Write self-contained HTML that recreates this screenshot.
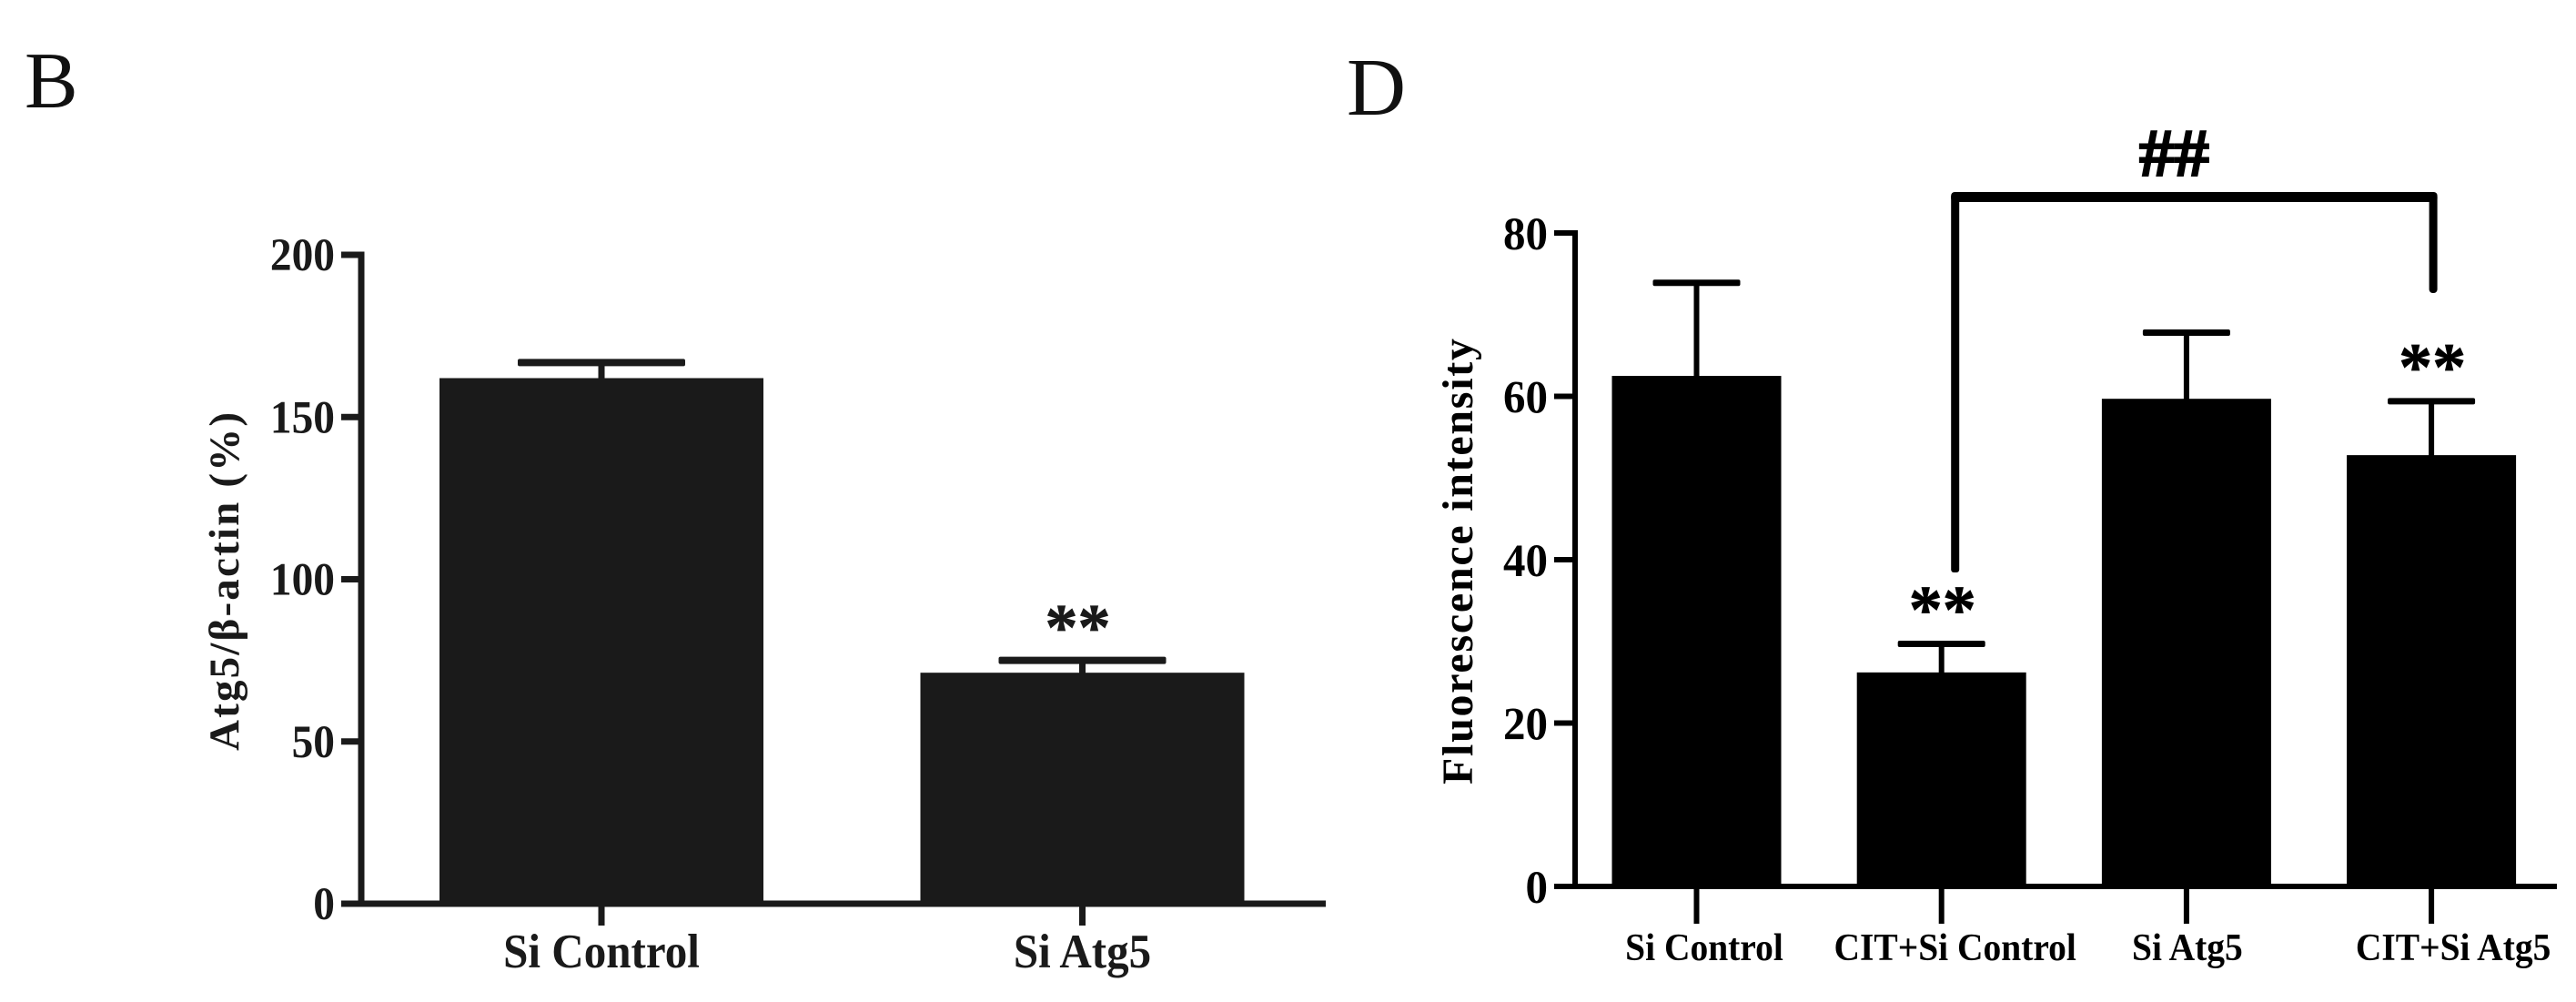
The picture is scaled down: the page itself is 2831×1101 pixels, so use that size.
<!DOCTYPE html>
<html lang="en">
<head>
<meta charset="utf-8">
<title>Atg5 and fluorescence bar charts</title>
<style>
html,body{margin:0;padding:0;background:#fff;}
svg{display:block;}
text{font-family:"Liberation Serif",serif;}
</style>
</head>
<body>
<svg id="figure" xmlns="http://www.w3.org/2000/svg" width="2831" height="1101" viewBox="0 0 2831 1101">
  <rect x="0" y="0" width="2831" height="1101" fill="#fff"/>
  <text x="27" y="118" font-size="88" fill="#111">B</text>
  <text x="1480" y="126" font-size="90" fill="#111">D</text>
  <g id="chartB"></g>
  <g id="chartD"></g>
</svg>
<script>
// Panel B data
const bCategories = ['Si Control', 'Si Atg5'];
const bMeans = [162, 71.2];
const bErrorTops = [166.8, 75];
const bTicks = [0, 50, 100, 150, 200];
const bStarred = ['Si Atg5'];

// Panel D data
const dCategories = ['Si Control', 'CIT+Si Control', 'Si Atg5', 'CIT+Si Atg5'];
const dMeans = [62.5, 26.2, 59.7, 52.8];
const dErrorTops = [73.9, 29.7, 67.8, 59.4];
const dTicks = [0, 20, 40, 60, 80];
const dStarred = ['CIT+Si Control', 'CIT+Si Atg5'];
const dBracketFrom = 'CIT+Si Control';
const dBracketTo = 'CIT+Si Atg5';

const NS = 'http://www.w3.org/2000/svg';

function mk(parent, tag, attrs, txt) {
  const el = document.createElementNS(NS, tag);
  for (const k in attrs) el.setAttribute(k, attrs[k]);
  if (txt !== undefined) el.textContent = txt;
  parent.appendChild(el);
  return el;
}

function drawChart(root, cfg, categories, means, tops, ticks, starred) {
  const y = v => cfg.y0 - (v - cfg.vMin) * (cfg.y0 - cfg.yTop) / (cfg.vMax - cfg.vMin);
  const x = i => cfg.x0 + i * cfg.step;
  const c = cfg.color;

  categories.forEach((cat, i) => {
    const stem = mk(root, 'rect', {x: x(i) - cfg.stemW / 2, y: y(tops[i]), width: cfg.stemW, height: y(means[i]) - y(tops[i]) + 2, fill: c});
    
    

    const cap = mk(root, 'rect', {x: x(i) - cfg.capW / 2, y: y(tops[i]) - cfg.capH / 2, width: cfg.capW, height: cfg.capH, rx: 2, fill: c});
    
    

    const bar = mk(root, 'rect', {x: x(i) - cfg.barW / 2, y: y(means[i]), width: cfg.barW, height: cfg.y0 - y(means[i]), fill: c});
    
    

    const tick = mk(root, 'rect', {x: x(i) - cfg.lineW / 2, y: cfg.y0, width: cfg.lineW, height: cfg.xTickEnd - cfg.y0, fill: c});
    
    

    const lab = mk(root, 'text', {x: x(i) + cfg.labelNudge[i], y: cfg.xLabelY, 'font-size': cfg.xFont, 'font-weight': 'bold', 'text-anchor': 'middle', fill: c}, cat);
    
    
    lab.setAttribute('textLength', (lab.getComputedTextLength() * cfg.xCondense).toFixed(1));
    lab.setAttribute('lengthAdjust', 'spacingAndGlyphs');

    if (starred.includes(cat)) {
      const star = mk(root, 'text', {x: x(i) + cfg.starNudge, y: y(tops[i]) - cfg.starGap, 'font-size': cfg.starFont, 'font-weight': 'bold', 'text-anchor': 'middle', fill: c, stroke: c, 'stroke-width': 0.8}, '**');
      
      
    }
  });

  const yAxis = mk(root, 'rect', {x: cfg.axisX - cfg.lineW / 2, y: cfg.yTop - cfg.lineW / 2, width: cfg.lineW, height: cfg.y0 - cfg.yTop + cfg.lineW, fill: c});
  
  

  const xAxis = mk(root, 'rect', {x: cfg.tickLeft, y: cfg.y0 - cfg.lineW / 2, width: cfg.axisEnd - cfg.tickLeft, height: cfg.lineW, fill: c});
  
  

  ticks.forEach(t => {
    const tk = mk(root, 'rect', {x: cfg.tickLeft, y: y(t) - cfg.lineW / 2, width: cfg.axisX - cfg.tickLeft, height: cfg.lineW, fill: c});
    
    

    const str = String(t);
    const lab = mk(root, 'text', {x: cfg.yLabelRight, y: y(t) + cfg.yLabelDrop, 'font-size': cfg.yFont, 'font-weight': 'bold', 'text-anchor': 'end', fill: c, textLength: str.length * cfg.digitW, lengthAdjust: 'spacingAndGlyphs'}, str);
    
    
  });

  const title = mk(root, 'text', {transform: 'translate(' + cfg.titleX + ',' + cfg.titleY + ') rotate(-90)', 'font-size': cfg.titleFont, 'font-weight': 'bold', 'text-anchor': 'middle', fill: c, textLength: cfg.titleLen, lengthAdjust: 'spacing'}, cfg.title);
  
  

  return {x, y};
}

const scalesB = drawChart(document.getElementById('chartB'), {
  color: '#1a1a1a', y0: 993, yTop: 280, vMin: 0, vMax: 200,
  x0: 661, step: 528.5, barW: 356, stemW: 7, capW: 184, capH: 8, lineW: 7,
  axisX: 397, tickLeft: 375, axisEnd: 1457, xTickEnd: 1017,
  xLabelY: 1063, xFont: 53, xCondense: 0.925, labelNudge: [0, 0],
  yLabelRight: 368, yLabelDrop: 17, yFont: 51, digitW: 23.7,
  starFont: 72, starGap: 12, starNudge: -5,
  title: 'Atg5/β-actin (%)', titleX: 262, titleY: 639, titleFont: 47, titleLen: 372
}, bCategories, bMeans, bErrorTops, bTicks, bStarred);

const scalesD = drawChart(document.getElementById('chartD'), {
  color: '#000', y0: 974, yTop: 256, vMin: 0, vMax: 80,
  x0: 1864.5, step: 269.2, barW: 186, stemW: 6, capW: 96, capH: 7, lineW: 6,
  axisX: 1731, tickLeft: 1708, axisEnd: 2810, xTickEnd: 1015,
  xLabelY: 1055, xFont: 42, xCondense: 0.94, labelNudge: [8.5, 15, 1, 24],
  yLabelRight: 1701, yLabelDrop: 18, yFont: 51, digitW: 24.5,
  starFont: 74, starGap: 13, starNudge: 1,
  title: 'Fluorescence intensity', titleX: 1618, titleY: 617, titleFont: 48, titleLen: 490
}, dCategories, dMeans, dErrorTops, dTicks, dStarred);

// Significance bracket, anchored on the two compared categories
const rootD = document.getElementById('chartD');
const bx1 = scalesD.x(dCategories.indexOf(dBracketFrom)) + 15;
const bx2 = scalesD.x(dCategories.indexOf(dBracketTo)) + 2;

const bracketTop = mk(rootD, 'rect', {x: bx1 - 4.5, y: 211, width: bx2 - bx1 + 9, height: 11, rx: 4, fill: '#000'});



const bracketLeft = mk(rootD, 'rect', {x: bx1 - 4.5, y: 213, width: 9, height: 416, rx: 3, fill: '#000'});



const bracketRight = mk(rootD, 'rect', {x: bx2 - 4.5, y: 213, width: 9, height: 109, rx: 4, fill: '#000'});



const hashes = mk(rootD, 'text', {x: (bx1 + bx2) / 2 - 22, y: 193, 'font-size': 74, 'font-weight': 'bold', 'text-anchor': 'middle', fill: '#000', stroke: '#000', 'stroke-width': 2, textLength: 77, lengthAdjust: 'spacingAndGlyphs'}, '##');


</script>
</body>
</html>
